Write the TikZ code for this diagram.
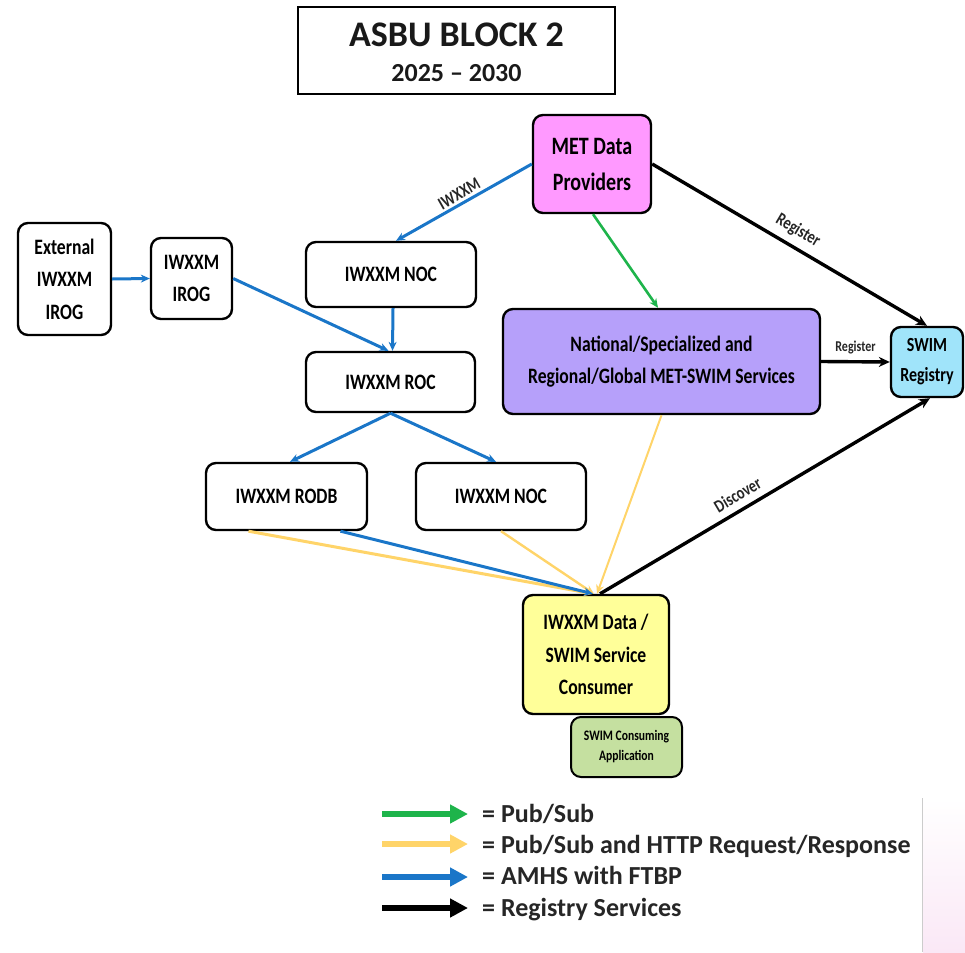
\documentclass[tikz,border=0pt]{standalone}
\usepackage{fontspec}
\setmainfont{Carlito}
\newfontfamily\cond{Carlito}[FakeStretch=0.8]
\usetikzlibrary{arrows.meta,calc}
\definecolor{metpink}{RGB}{255,153,255}
\definecolor{natp}{RGB}{182,160,250}
\definecolor{regc}{RGB}{160,228,250}
\definecolor{consy}{RGB}{255,255,153}
\definecolor{appg}{RGB}{197,224,160}
\definecolor{bluec}{RGB}{26,118,200}
\definecolor{yelc}{RGB}{255,212,105}
\definecolor{grnc}{RGB}{30,180,75}
\definecolor{pinkbg}{RGB}{250,232,246}
\begin{document}
\begin{tikzpicture}[x=1pt,y=-1pt,
  box/.style={draw=black, line width=2.4pt, rounded corners=10pt, align=center, inner sep=0pt,
    font=\cond\bfseries\fontsize{22}{32.5}\selectfont, text=black},
  blu/.style={draw=bluec, line width=3pt, -{Stealth[length=9pt,width=8pt]}},
  yel/.style={draw=yelc, line width=2.4pt, -{Stealth[length=9pt,width=8pt]}},
  grn/.style={draw=grnc, line width=2.6pt, -{Stealth[length=9pt,width=8pt]}},
  blk/.style={draw=black, line width=3.4pt, -{Stealth[length=11pt,width=10pt]}},
  lbl/.style={font=\cond\bfseries\fontsize{18}{20}\selectfont, text=black!85, inner sep=2pt},
  legtxt/.style={font=\bfseries\fontsize{26}{30}\selectfont, text=black!85, inner sep=0pt, anchor=base west},
  legar/.style={line width=6pt, -{Triangle[length=18pt,width=18pt]}}
]
\useasboundingbox (0,0) rectangle (965,952);
% background corner
\shade[top color=white, bottom color=pinkbg] (923,798) rectangle (965,952);
\draw[black!20, line width=1pt] (922.5,798) -- (922.5,952);

% title
\node[draw=black, line width=2pt, minimum width=317, minimum height=87, inner sep=0pt] (title) at (456.5,50.5) {};
\node[font=\bfseries\fontsize{36}{40}\selectfont, text=black!90] (t1) at (456.5,35) {ASBU BLOCK 2};
\node[font=\bfseries\fontsize{26}{30}\selectfont, text=black!90] (t2) at (456.5,73) {2025 -- 2030};

% nodes
\node[box, minimum width=93, minimum height=112] (ext) at (64.5,279) {External\\IWXXM\\IROG};
\node[box, minimum width=81, minimum height=81] (irog) at (191.5,278.5) {IWXXM\\IROG};
\node[box, minimum width=170, minimum height=65] (noc1) at (391,274.5) {IWXXM NOC};
\node[box, minimum width=169, minimum height=60] (roc) at (390.5,382) {IWXXM ROC};
\node[box, minimum width=161, minimum height=67] (rodb) at (286.5,496.5) {IWXXM RODB};
\node[box, minimum width=170, minimum height=67] (noc2) at (501,496.5) {IWXXM NOC};
\node[box, fill=consy, minimum width=146, minimum height=119] (cons) at (596,654.5) {IWXXM Data /\\SWIM Service\\Consumer};
\node[box, fill=appg, line width=2pt, minimum width=111, minimum height=60,
  font=\cond\bfseries\fontsize{14.5}{20}\selectfont] (app) at (626.5,747) {SWIM Consuming\\Application};
\node[box, fill=metpink, minimum width=118, minimum height=98,
  font=\cond\bfseries\fontsize{25}{36}\selectfont] (met) at (592,164) {MET Data\\Providers};
\node[box, fill=natp, minimum width=317, minimum height=105] (nat) at (661.5,361.5) {National/Specialized and\\Regional/Global MET-SWIM Services};
\node[box, fill=regc, minimum width=72, minimum height=70,
  font=\cond\bfseries\fontsize{20}{30}\selectfont] (reg) at (927,362) {SWIM\\Registry};

% blue connectors
\draw[blu] (met.west) -- node[lbl, sloped, above=0.5pt, pos=0.5] {IWXXM} ([xshift=5pt]noc1.north);
\draw[blu] (ext.east) -- (irog.west);
\draw[blu] (irog.east) -- ([xshift=-2pt]roc.north);
\draw[blu] ([xshift=2pt]noc1.south) -- ([xshift=2pt]roc.north);
\draw[blu] (roc.south) -- ([xshift=3.5pt]rodb.north);
\draw[blu] (roc.south) -- ([xshift=-5pt]noc2.north);

% yellow connectors
\draw[yel, line width=3pt] ([xshift=-38pt]rodb.south) -- ([xshift=-3pt]cons.north);
\draw[yel] (noc2.south) -- ([xshift=-2pt]cons.north);
\draw[yel, line width=2pt] (nat.south) -- ([xshift=1pt]cons.north);
\draw[blu] ([xshift=54pt]rodb.south) -- ([xshift=-3pt]cons.north);

% green
\draw[grn] ([xshift=1pt]met.south) -- ([xshift=-3.5pt]nat.north);

% black
\draw[blk] (met.east) -- node[lbl, sloped, above=5pt, pos=0.5] {Register} (reg.north);
\draw[blk] (nat.east) -- node[lbl, above=4pt, font=\cond\bfseries\fontsize{15}{17}\selectfont] {Register} (reg.west);
\draw[blk] ([xshift=4pt]cons.north) -- node[lbl, sloped, above=5pt, pos=0.44] {Discover} ([xshift=3pt]reg.south);

% legend
\node[legtxt] (lg1) at (482,822) {= Pub/Sub};
\node[legtxt] (lg2) at (482,853) {= Pub/Sub and HTTP Request/Response};
\node[legtxt] (lg3) at (482,884) {= AMHS with FTBP};
\node[legtxt] (lg4) at (482,916) {= Registry Services};
\coordinate (la1) at (382,814); \coordinate (lb1) at (468,814);
\coordinate (la2) at (382,844); \coordinate (lb2) at (468,844);
\coordinate (la3) at (382,877); \coordinate (lb3) at (468,877);
\coordinate (la4) at (382,908); \coordinate (lb4) at (468,908);
\draw[legar, draw=grnc, fill=grnc] (la1) -- (lb1);
\draw[legar, draw=yelc, fill=yelc] (la2) -- (lb2);
\draw[legar, draw=bluec, fill=bluec] (la3) -- (lb3);
\draw[legar, draw=black, fill=black] (la4) -- (lb4);
\end{tikzpicture}
\end{document}
